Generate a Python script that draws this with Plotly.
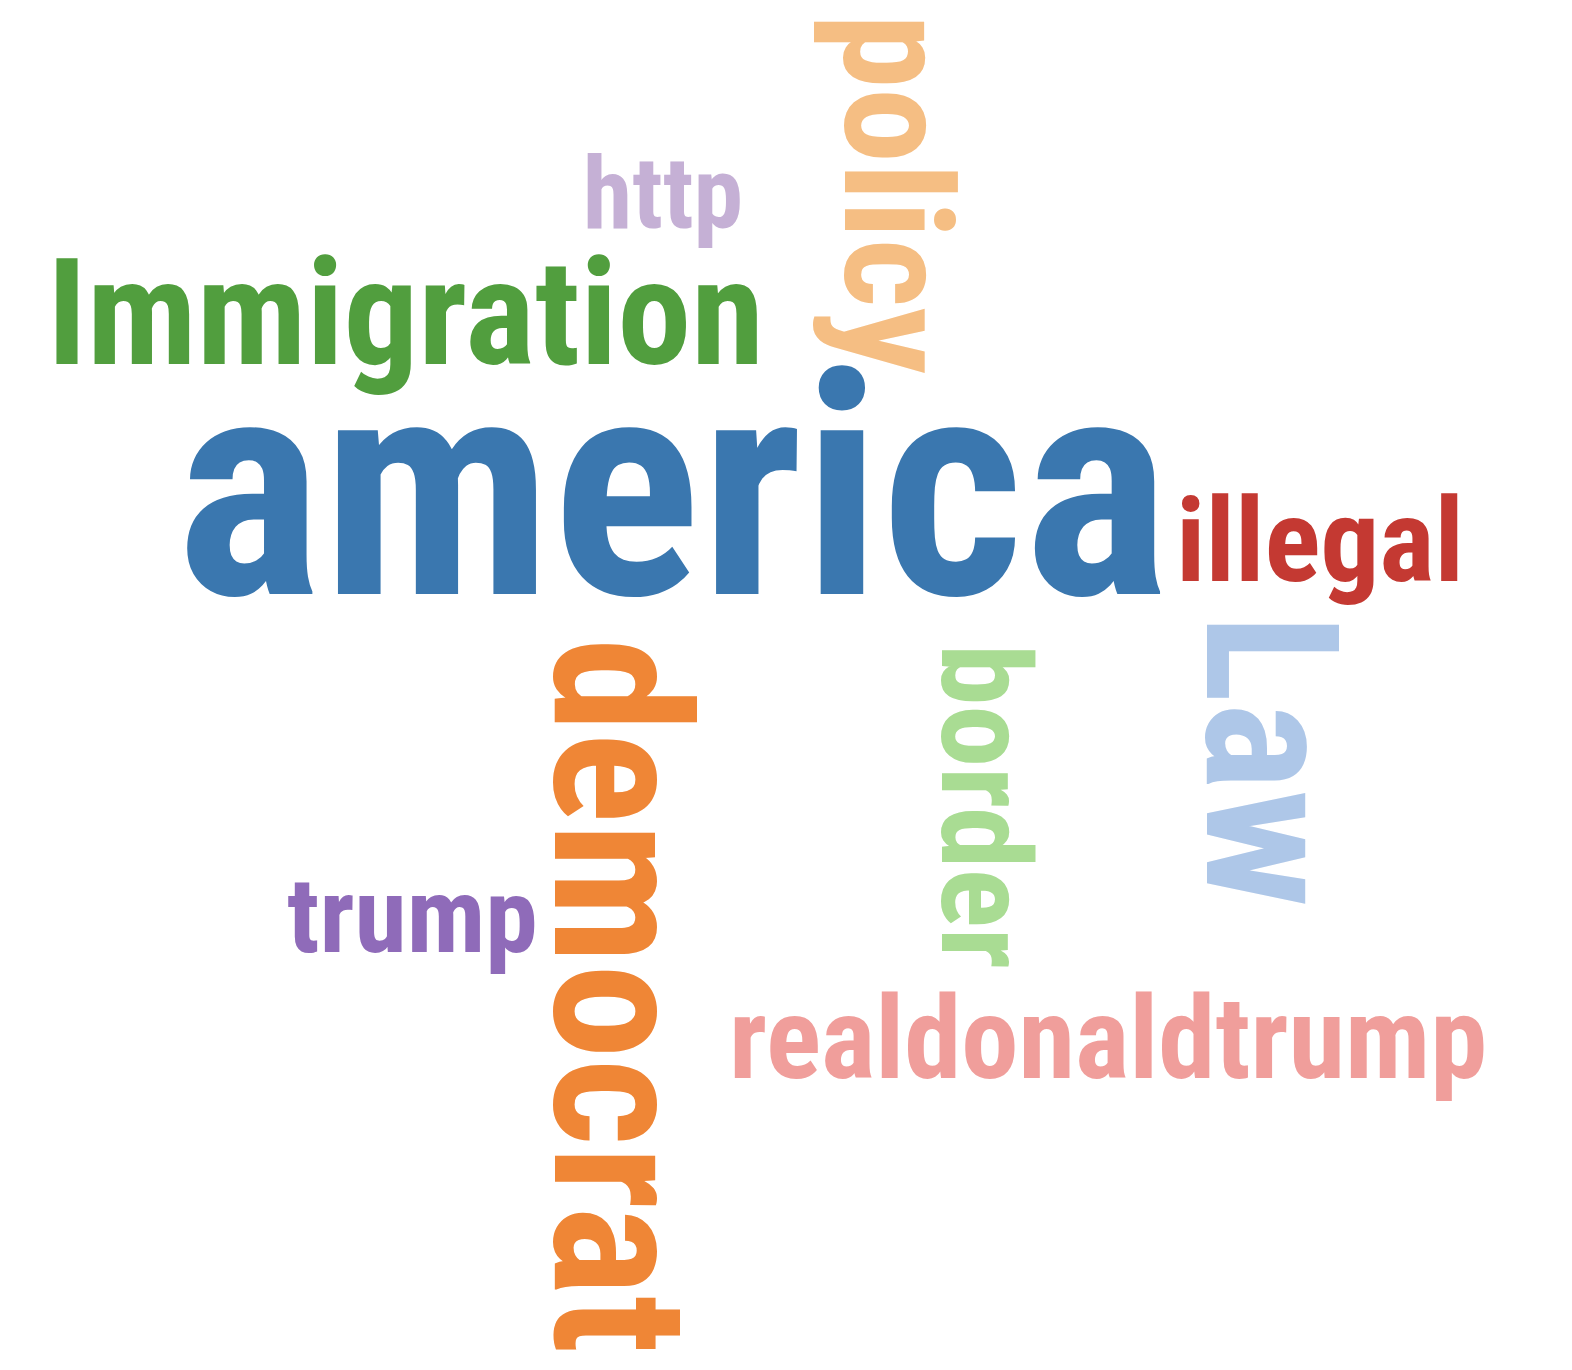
import plotly.graph_objects as go

words = ["america", "Immigration", "http", "policy", "illegal", "Law", "border", "democrat", "trump", "realdonaldtrump"]
xs = [665, 397, 655, 888, 1312, 1263, 977, 612, 404, 1100]
ys = [480, 305, 185, 186, 533, 752, 798, 988, 908, 1030]
sizes = [310, 148, 100, 150, 117, 185, 124, 190, 106, 115]
angles = [0, 0, 0, 90, 0, 90, 90, 90, 0, 0]
colors = ["#3a77af", "#519e3e", "#c5b0d5", "#f5be83", "#c43932", "#aec7e8", "#a9dc93", "#ef8636", "#8f6bb9", "#f09e9b"]

fig = go.Figure()
fig.add_trace(go.Scatter(x=[0, 1572], y=[0, 1370], mode="markers", marker=dict(opacity=0), hoverinfo="skip"))
for w, x, y, s, a, c in zip(words, xs, ys, sizes, angles, colors):
    fig.add_annotation(x=x, y=y, xref="x", yref="y", text="<b>%s</b>" % w, showarrow=False,
                       textangle=a, font=dict(family="Liberation Sans Narrow, Roboto Condensed, DejaVu Sans Condensed", size=s, color=c),
                       xanchor="center", yanchor="middle")
fig.update_xaxes(range=[0, 1572], visible=False)
fig.update_yaxes(range=[1370, 0], visible=False)
fig.update_layout(width=1572, height=1370, margin=dict(l=0, r=0, t=0, b=0), showlegend=False,
                  plot_bgcolor="white", paper_bgcolor="white")
fig.write_html("out.html")
